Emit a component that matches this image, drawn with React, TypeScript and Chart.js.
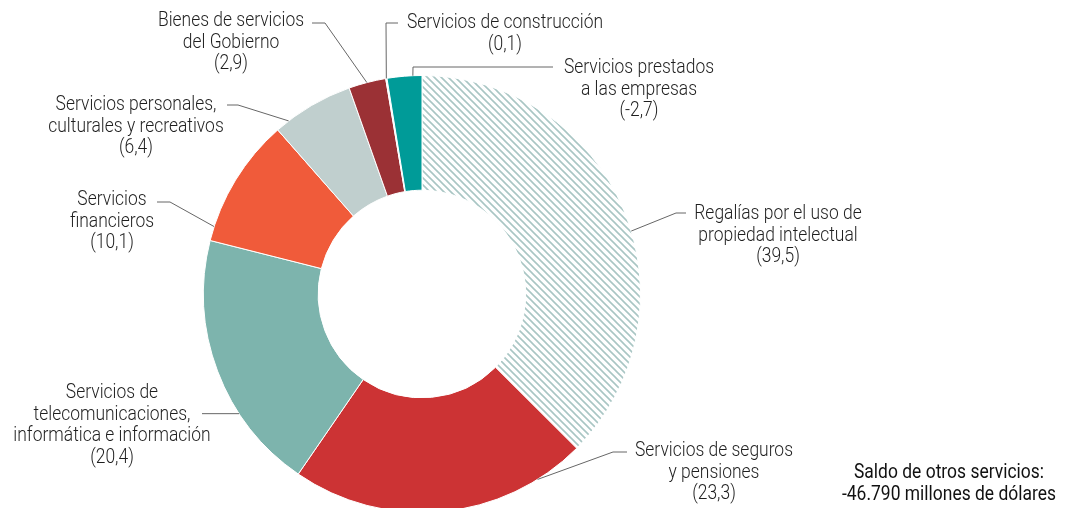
import React, { useEffect, useRef } from 'react';
import { Chart, registerables } from 'chart.js';

Chart.register(...registerables);

const categories = [
  'Regalías por el uso de propiedad intelectual',
  'Servicios de seguros y pensiones',
  'Servicios de telecomunicaciones, informática e información',
  'Servicios financieros',
  'Servicios personales, culturales y recreativos',
  'Bienes de servicios del Gobierno',
  'Servicios de construcción',
  'Servicios prestados a las empresas',
];

const values = [39.5, 23.3, 20.4, 10.1, 6.4, 2.9, 0.1, -2.7];

const labelLines = [
  ['Regalías por el uso de', 'propiedad intelectual'],
  ['Servicios de seguros', 'y pensiones'],
  ['Servicios de', 'telecomunicaciones,', 'informática e información'],
  ['Servicios', 'financieros'],
  ['Servicios personales,', 'culturales y recreativos'],
  ['Bienes de servicios', 'del Gobierno'],
  ['Servicios de construcción'],
  ['Servicios prestados', 'a las empresas'],
];

const totalLines = ['Saldo de otros servicios:', '-46.790 millones de dólares'];

const FONT = "Roboto, 'DejaVu Sans Condensed', sans-serif";

function formatValue(v: number) {
  return '(' + v.toFixed(1).replace('.', ',') + ')';
}

function makeHatch(): CanvasPattern | string {
  const s = 7;
  const c = document.createElement('canvas');
  c.width = s;
  c.height = s;
  const g = c.getContext('2d');
  if (!g) return '#A9C6C4';
  g.fillStyle = '#ffffff';
  g.fillRect(0, 0, s, s);
  g.strokeStyle = '#A9C6C4';
  g.lineWidth = 1.6;
  g.beginPath();
  g.moveTo(-1, -1);
  g.lineTo(s + 1, s + 1);
  g.moveTo(-1, s - 1);
  g.lineTo(1, s + 1);
  g.moveTo(s - 1, -1);
  g.lineTo(s + 1, 1);
  g.stroke();
  return g.createPattern(c, 'repeat') || '#A9C6C4';
}

// label layout: position along the arc (fraction), elbow, end of leader, text centre and first line y
const labelLayout = [
  { frac: 0.543, elbow: [676, 213], end: [686, 213], cx: 778, y: 214 },
  { frac: 0.165, elbow: [613, 452], end: [627, 452], cx: 714, y: 451 },
  { frac: 0.32, elbow: null, end: [202, 0], cx: 112, y: 393 },
  { frac: 0.11, elbow: [170, 202], end: [157, 202], cx: 112, y: 200 },
  { frac: 0.17, elbow: [238, 105], end: [227, 105], cx: 136, y: 105 },
  { frac: 0.49, elbow: [325, 23], end: [312, 23], cx: 231, y: 21 },
  { frac: 0.5, elbow: [386, 23], end: [398, 23], cx: 505, y: 23 },
  { frac: 0.74, elbow: [413, 67], end: [553, 67], cx: 639, y: 68 },
];

const LINE_H = 21.5;

function drawScaled(ctx: CanvasRenderingContext2D, t: string, x: number, y: number, sx: number) {
  ctx.save();
  ctx.translate(x, y);
  ctx.scale(sx, 1);
  ctx.fillText(t, 0, 0);
  ctx.restore();
}

const labelsPlugin = {
  id: 'leaderLabels',
  afterDatasetsDraw(chart: any) {
    const ctx = chart.ctx as CanvasRenderingContext2D;
    const meta = chart.getDatasetMeta(0);
    ctx.save();
    ctx.strokeStyle = '#666666';
    ctx.lineWidth = 1;
    ctx.font = `300 21px ${FONT}`;
    const sLabel = 158 / ctx.measureText('Servicios de seguros').width;
    labelLayout.forEach((lay, i) => {
      const arc = meta.data[i] as any;
      const p = arc.getProps(['x', 'y', 'startAngle', 'endAngle', 'outerRadius'], true);
      const a = p.startAngle + lay.frac * (p.endAngle - p.startAngle);
      const sx = p.x + Math.cos(a) * p.outerRadius;
      const sy = p.y + Math.sin(a) * p.outerRadius;
      ctx.beginPath();
      ctx.moveTo(sx, sy);
      if (lay.elbow) {
        ctx.lineTo(lay.elbow[0], lay.elbow[1]);
        ctx.lineTo(lay.end[0], lay.end[1]);
      } else {
        ctx.lineTo(lay.end[0], sy);
      }
      ctx.stroke();

      const lines = [...labelLines[i], formatValue(values[i])];
      ctx.fillStyle = '#1f1f1f';
      ctx.font = `300 21px ${FONT}`;
      ctx.textAlign = 'center';
      ctx.textBaseline = 'middle';
      lines.forEach((t, k) => {
        drawScaled(ctx, t, lay.cx, lay.y + k * LINE_H, sLabel);
      });
    });
    ctx.fillStyle = '#111111';
    ctx.font = `400 21px ${FONT}`;
    const sTotal = 190 / ctx.measureText(totalLines[0]).width;
    ctx.textAlign = 'center';
    ctx.textBaseline = 'middle';
    totalLines.forEach((t, k) => {
      drawScaled(ctx, t, 949, 473 + k * LINE_H, sTotal);
    });
    ctx.restore();
  },
};

export default function App() {
  const ref = useRef<HTMLCanvasElement | null>(null);
  useEffect(() => {
    if (!ref.current) return;
    const colors = [
      makeHatch(),
      '#CC3334',
      '#7DB4AD',
      '#F05B3A',
      '#C0CFCE',
      '#9B3135',
      '#FFFFFF',
      '#009B98',
    ];
    const chart = new Chart(ref.current, {
      type: 'doughnut',
      data: {
        labels: categories,
        datasets: [
          {
            data: values.map((v) => Math.abs(v)),
            backgroundColor: colors as any,
            borderColor: '#ffffff',
            borderWidth: 1,
          },
        ],
      },
      options: {
        responsive: false,
        animation: false,
        cutout: '47.5%',
        layout: { padding: { left: 203, right: 438, top: 75, bottom: 27 } },
        plugins: {
          legend: { display: false },
          tooltip: { enabled: false },
        },
      },
      plugins: [labelsPlugin],
    });
    return () => chart.destroy();
  }, []);
  return (
    <div
      style={{
        position: 'fixed',
        left: 0,
        top: 0,
        width: 1079,
        height: 508,
        overflow: 'hidden',
        background: '#ffffff',
      }}
    >
      <canvas ref={ref} width={1079} height={540} style={{ display: 'block' }} />
    </div>
  );
}
